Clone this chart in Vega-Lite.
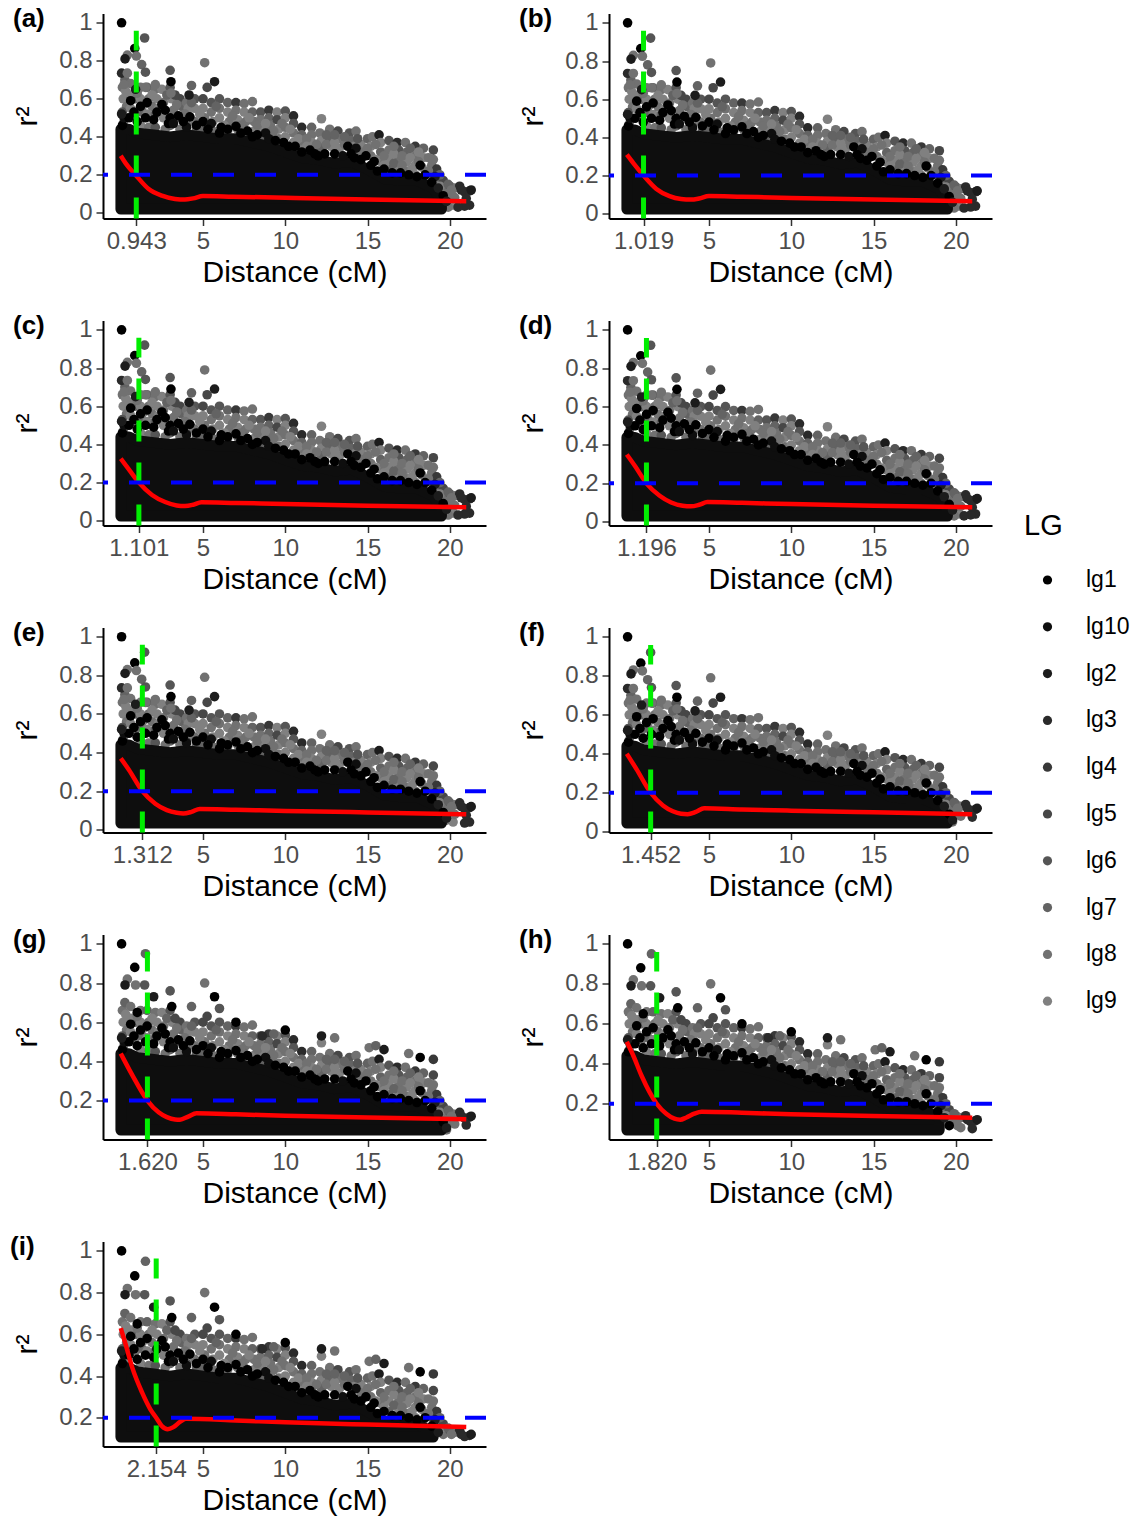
{"$schema":"https://vega.github.io/schema/vega-lite/v6.json","background":"white","padding":{"left":10,"top":5.5,"right":0,"bottom":0},"columns":2,"bounds":"flush","spacing":{"column":123,"row":102},"resolve":{"scale":{"color":"shared"},"legend":{"color":"shared"}},
"config":{"view":{"stroke":null},"font":"Liberation Sans","axis":{"grid":false,"domainColor":"#000","domainWidth":2,"tickColor":"#333","tickSize":7,"tickWidth":1.5,"labelFont":"Liberation Sans","labelFontSize":24,"labelColor":"#4d4d4d","labelPadding":4,"labelOverlap":false,"labelFlush":false,"titleFont":"Liberation Sans","titleFontSize":30,"titleColor":"#000","titleFontWeight":"normal"},"axisX":{"titlePadding":4},"axisY":{"titlePadding":16},"legend":{"orient":"none","legendX":921,"legendY":498,"titleFont":"Liberation Sans","titleFontSize":29,"titleFontWeight":"normal","titleColor":"#000","titlePadding":28,"labelFont":"Liberation Sans","labelFontSize":23,"labelColor":"#000","labelOffset":27,"symbolSize":85,"symbolOffset":12,"rowPadding":22.8,"symbolType":"circle"},"title":{"font":"Liberation Sans","fontSize":26,"fontWeight":"bold","color":"#000","anchor":"start","frame":"group","dx":-90,"offset":-21}},
"datasets":{
"gray":[{"d":0.1,"r":0.66,"g":"lg8"},{"d":0.25,"r":0.7,"g":"lg7"},{"d":0.3,"r":0.64,"g":"lg9"},{"d":0.15,"r":0.6,"g":"lg9"},{"d":0.35,"r":0.56,"g":"lg8"},{"d":0.1,"r":0.53,"g":"lg6"},{"d":0.3,"r":0.5,"g":"lg9"},{"d":0.15,"r":0.47,"g":"lg8"},{"d":0.6,"r":0.68,"g":"lg8"},{"d":0.7,"r":0.62,"g":"lg9"},{"d":0.6,"r":0.55,"g":"lg9"},{"d":0.9,"r":0.6,"g":"lg7"},{"d":0.9,"r":0.52,"g":"lg8"},{"d":1.2,"r":0.66,"g":"lg8"},{"d":1.2,"r":0.6,"g":"lg9"},{"d":1.3,"r":0.53,"g":"lg7"},{"d":1.2,"r":0.46,"g":"lg9"},{"d":1.6,"r":0.66,"g":"lg7"},{"d":1.7,"r":0.6,"g":"lg8"},{"d":1.6,"r":0.52,"g":"lg9"},{"d":1.7,"r":0.45,"g":"lg8"},{"d":2.1,"r":0.65,"g":"lg8"},{"d":2.2,"r":0.6,"g":"lg9"},{"d":2.1,"r":0.52,"g":"lg7"},{"d":2.1,"r":0.45,"g":"lg6"},{"d":2.5,"r":0.65,"g":"lg9"},{"d":2.6,"r":0.58,"g":"lg8"},{"d":2.6,"r":0.5,"g":"lg9"},{"d":2.7,"r":0.44,"g":"lg8"},{"d":3,"r":0.66,"g":"lg6"},{"d":3.1,"r":0.6,"g":"lg9"},{"d":3.2,"r":0.54,"g":"lg8"},{"d":3,"r":0.46,"g":"lg7"},{"d":3.6,"r":0.6,"g":"lg5"},{"d":3.7,"r":0.56,"g":"lg7"},{"d":3.6,"r":0.5,"g":"lg9"},{"d":3.6,"r":0.44,"g":"lg8"},{"d":4,"r":0.58,"g":"lg8"},{"d":4.1,"r":0.55,"g":"lg9"},{"d":4,"r":0.46,"g":"lg6"},{"d":4.5,"r":0.6,"g":"lg6"},{"d":4.5,"r":0.55,"g":"lg9"},{"d":4.5,"r":0.48,"g":"lg8"},{"d":4.6,"r":0.44,"g":"lg7"},{"d":5,"r":0.6,"g":"lg5"},{"d":5,"r":0.55,"g":"lg9"},{"d":5.1,"r":0.5,"g":"lg8"},{"d":5,"r":0.44,"g":"lg7"},{"d":5.5,"r":0.58,"g":"lg6"},{"d":5.5,"r":0.53,"g":"lg8"},{"d":5.6,"r":0.48,"g":"lg9"},{"d":5.6,"r":0.43,"g":"lg8"},{"d":6,"r":0.6,"g":"lg6"},{"d":6,"r":0.55,"g":"lg8"},{"d":6,"r":0.5,"g":"lg9"},{"d":6.1,"r":0.43,"g":"lg8"},{"d":6.5,"r":0.58,"g":"lg7"},{"d":6.5,"r":0.53,"g":"lg9"},{"d":6.6,"r":0.48,"g":"lg8"},{"d":6.5,"r":0.43,"g":"lg9"},{"d":7,"r":0.58,"g":"lg4"},{"d":7,"r":0.54,"g":"lg8"},{"d":7.1,"r":0.49,"g":"lg9"},{"d":7.1,"r":0.44,"g":"lg8"},{"d":7.5,"r":0.575,"g":"lg8"},{"d":7.5,"r":0.53,"g":"lg9"},{"d":7.6,"r":0.48,"g":"lg8"},{"d":7.5,"r":0.44,"g":"lg7"},{"d":8,"r":0.585,"g":"lg8"},{"d":8,"r":0.53,"g":"lg7"},{"d":8.1,"r":0.48,"g":"lg8"},{"d":8.1,"r":0.43,"g":"lg9"},{"d":8.5,"r":0.53,"g":"lg6"},{"d":8.5,"r":0.49,"g":"lg8"},{"d":8.6,"r":0.44,"g":"lg9"},{"d":8.6,"r":0.39,"g":"lg7"},{"d":9,"r":0.54,"g":"lg4"},{"d":9,"r":0.5,"g":"lg7"},{"d":9.1,"r":0.46,"g":"lg8"},{"d":9.1,"r":0.41,"g":"lg9"},{"d":9.5,"r":0.53,"g":"lg9"},{"d":9.5,"r":0.49,"g":"lg5"},{"d":9.6,"r":0.44,"g":"lg9"},{"d":9.6,"r":0.39,"g":"lg8"},{"d":10,"r":0.535,"g":"lg6"},{"d":10,"r":0.5,"g":"lg9"},{"d":10,"r":0.45,"g":"lg8"},{"d":10,"r":0.4,"g":"lg9"},{"d":10.5,"r":0.51,"g":"lg3"},{"d":10.5,"r":0.47,"g":"lg6"},{"d":10.5,"r":0.42,"g":"lg8"},{"d":10.5,"r":0.37,"g":"lg9"},{"d":11,"r":0.45,"g":"lg3"},{"d":11,"r":0.41,"g":"lg7"},{"d":11,"r":0.37,"g":"lg8"},{"d":11,"r":0.33,"g":"lg9"},{"d":11.6,"r":0.45,"g":"lg7"},{"d":11.6,"r":0.41,"g":"lg8"},{"d":11.6,"r":0.37,"g":"lg9"},{"d":11.6,"r":0.33,"g":"lg7"},{"d":12.2,"r":0.495,"g":"lg9"},{"d":12.1,"r":0.42,"g":"lg8"},{"d":12.2,"r":0.38,"g":"lg9"},{"d":12.2,"r":0.34,"g":"lg7"},{"d":12.7,"r":0.44,"g":"lg8"},{"d":12.7,"r":0.39,"g":"lg7"},{"d":12.8,"r":0.35,"g":"lg9"},{"d":13.2,"r":0.43,"g":"lg5"},{"d":13.3,"r":0.39,"g":"lg8"},{"d":13.3,"r":0.34,"g":"lg9"},{"d":13.9,"r":0.42,"g":"lg6"},{"d":14,"r":0.38,"g":"lg7"},{"d":14.3,"r":0.43,"g":"lg8"},{"d":14.6,"r":0.36,"g":"lg9"},{"d":14.6,"r":0.32,"g":"lg8"},{"d":15,"r":0.39,"g":"lg7"},{"d":15.3,"r":0.4,"g":"lg8"},{"d":15.2,"r":0.35,"g":"lg9"},{"d":15.2,"r":0.3,"g":"lg8"},{"d":15.7,"r":0.41,"g":"lg2"},{"d":15.8,"r":0.37,"g":"lg9"},{"d":15.8,"r":0.32,"g":"lg7"},{"d":15.8,"r":0.27,"g":"lg8"},{"d":16.3,"r":0.38,"g":"lg6"},{"d":16.3,"r":0.33,"g":"lg8"},{"d":16.3,"r":0.28,"g":"lg9"},{"d":16.3,"r":0.23,"g":"lg7"},{"d":16.8,"r":0.37,"g":"lg3"},{"d":16.9,"r":0.33,"g":"lg6"},{"d":16.9,"r":0.28,"g":"lg8"},{"d":16.9,"r":0.23,"g":"lg9"},{"d":17.3,"r":0.37,"g":"lg8"},{"d":17.4,"r":0.32,"g":"lg7"},{"d":17.4,"r":0.27,"g":"lg9"},{"d":17.4,"r":0.22,"g":"lg8"},{"d":17.9,"r":0.35,"g":"lg4"},{"d":17.9,"r":0.3,"g":"lg8"},{"d":17.9,"r":0.25,"g":"lg9"},{"d":17.9,"r":0.2,"g":"lg8"},{"d":18.4,"r":0.34,"g":"lg7"},{"d":18.4,"r":0.29,"g":"lg9"},{"d":18.3,"r":0.24,"g":"lg8"},{"d":18.4,"r":0.19,"g":"lg7"},{"d":19,"r":0.33,"g":"lg5"},{"d":18.9,"r":0.25,"g":"lg8"},{"d":18.9,"r":0.2,"g":"lg6"},{"d":19.2,"r":0.23,"g":"lg4"},{"d":19.2,"r":0.16,"g":"lg8"},{"d":19.6,"r":0.17,"g":"lg5"},{"d":19.6,"r":0.12,"g":"lg8"},{"d":20,"r":0.14,"g":"lg6"},{"d":20.1,"r":0.09,"g":"lg8"},{"d":20.3,"r":0.13,"g":"lg8"},{"d":19.8,"r":0.05,"g":"lg8"},{"d":20.2,"r":0.04,"g":"lg9"},{"d":20.3,"r":0.08,"g":"lg8"},
{"d":0.5,"r":0.62,"g":"lg9"},{"d":1,"r":0.63,"g":"lg8"},{"d":1.4,"r":0.57,"g":"lg9"},{"d":1.9,"r":0.62,"g":"lg9"},{"d":1.9,"r":0.56,"g":"lg8"},{"d":2.3,"r":0.55,"g":"lg9"},{"d":2.8,"r":0.62,"g":"lg7"},{"d":3.4,"r":0.57,"g":"lg8"},{"d":3.3,"r":0.62,"g":"lg5"},{"d":3.9,"r":0.52,"g":"lg8"},{"d":4.2,"r":0.5,"g":"lg9"},{"d":4.3,"r":0.58,"g":"lg7"},{"d":4.8,"r":0.52,"g":"lg9"},{"d":5.3,"r":0.47,"g":"lg8"},{"d":5.8,"r":0.56,"g":"lg7"},{"d":6.3,"r":0.46,"g":"lg9"},{"d":6.8,"r":0.51,"g":"lg8"},{"d":7.3,"r":0.46,"g":"lg8"},{"d":7.8,"r":0.5,"g":"lg9"},{"d":8.3,"r":0.46,"g":"lg8"},{"d":8.8,"r":0.47,"g":"lg9"},{"d":9.3,"r":0.43,"g":"lg8"},{"d":9.8,"r":0.47,"g":"lg8"},{"d":10.3,"r":0.44,"g":"lg9"},{"d":10.8,"r":0.39,"g":"lg9"},{"d":11.3,"r":0.39,"g":"lg8"},{"d":11.3,"r":0.35,"g":"lg9"},{"d":11.9,"r":0.36,"g":"lg8"},{"d":12.5,"r":0.36,"g":"lg8"},{"d":12.5,"r":0.41,"g":"lg7"},{"d":13,"r":0.37,"g":"lg9"},{"d":13,"r":0.41,"g":"lg7"},{"d":13.6,"r":0.36,"g":"lg8"},{"d":13.6,"r":0.4,"g":"lg7"},{"d":14.2,"r":0.35,"g":"lg9"},{"d":14.4,"r":0.39,"g":"lg6"},{"d":15,"r":0.34,"g":"lg8"},{"d":15.5,"r":0.28,"g":"lg9"},{"d":15.5,"r":0.36,"g":"lg8"},{"d":16,"r":0.3,"g":"lg8"},{"d":16,"r":0.25,"g":"lg9"},{"d":16.6,"r":0.31,"g":"lg9"},{"d":16.6,"r":0.26,"g":"lg7"},{"d":16.6,"r":0.35,"g":"lg8"},{"d":17.1,"r":0.3,"g":"lg8"},{"d":17.1,"r":0.25,"g":"lg8"},{"d":17.6,"r":0.29,"g":"lg9"},{"d":17.6,"r":0.34,"g":"lg7"},{"d":17.7,"r":0.23,"g":"lg9"},{"d":18.1,"r":0.27,"g":"lg8"},{"d":18.1,"r":0.32,"g":"lg9"},{"d":18.7,"r":0.22,"g":"lg8"},{"d":18.7,"r":0.29,"g":"lg8"},{"d":19,"r":0.28,"g":"lg8"},{"d":19.4,"r":0.2,"g":"lg7"},{"d":19.4,"r":0.14,"g":"lg9"},{"d":19.8,"r":0.1,"g":"lg8"},{"d":19.9,"r":0.15,"g":"lg7"},{"d":19.9,"r":0.03,"g":"lg8"}],
"core":[{"d":0,"r":0.44},{"d":0.5,"r":0.44},{"d":1,"r":0.42},{"d":2,"r":0.41},{"d":3,"r":0.4},{"d":4,"r":0.41},{"d":5,"r":0.4},{"d":6,"r":0.39},{"d":7,"r":0.39},{"d":8,"r":0.37},{"d":9,"r":0.35},{"d":10,"r":0.32},{"d":11,"r":0.29},{"d":12,"r":0.28},{"d":13,"r":0.26},{"d":14,"r":0.27},{"d":15,"r":0.23},{"d":16,"r":0.18},{"d":17,"r":0.17},{"d":18,"r":0.17},{"d":19,"r":0.13},{"d":19.5,"r":0.06}],
"dark":[{"d":0.05,"r":1,"g":"lg1","s":"b"},{"d":0.1,"r":0.46,"g":"lg1","s":"b"},{"d":0.6,"r":0.59,"g":"lg1","s":"b"},{"d":0.8,"r":0.53,"g":"lg1","s":"b"},{"d":1.2,"r":0.56,"g":"lg1","s":"b"},{"d":1.6,"r":0.58,"g":"lg1","s":"b"},{"d":2.5,"r":0.57,"g":"lg1","s":"b"},{"d":2.7,"r":0.54,"g":"lg1","s":"b"},{"d":3.5,"r":0.51,"g":"lg1","s":"b"},{"d":4.2,"r":0.505,"g":"lg1","s":"b"},{"d":5,"r":0.48,"g":"lg1","s":"b"},{"d":5.5,"r":0.47,"g":"lg10","s":"b"},{"d":6.1,"r":0.45,"g":"lg1","s":"b"},{"d":7,"r":0.455,"g":"lg1","s":"b"},{"d":7.7,"r":0.43,"g":"lg1","s":"b"},{"d":8.8,"r":0.42,"g":"lg10","s":"b"},{"d":9.9,"r":0.37,"g":"lg1","s":"b"},{"d":10.6,"r":0.35,"g":"lg1","s":"b"},{"d":11.5,"r":0.33,"g":"lg1","s":"b"},{"d":12.4,"r":0.31,"g":"lg1","s":"b"},{"d":13,"r":0.31,"g":"lg1","s":"b"},{"d":13.8,"r":0.35,"g":"lg1","s":"b"},{"d":14.3,"r":0.34,"g":"lg10","s":"b"},{"d":14.6,"r":0.28,"g":"lg1","s":"b"},{"d":15.2,"r":0.25,"g":"lg1","s":"b"},{"d":16,"r":0.23,"g":"lg1","s":"b"},{"d":17,"r":0.21,"g":"lg1","s":"b"},{"d":18.2,"r":0.25,"g":"lg1","s":"b"},{"d":18.5,"r":0.2,"g":"lg1","s":"b"},{"d":19.1,"r":0.19,"g":"lg2","s":"b"},{"d":2,"r":0.49,"g":"lg1","s":"b"},{"d":2.9,"r":0.47,"g":"lg1","s":"b"},{"d":4,"r":0.45,"g":"lg10","s":"b"},{"d":1,"r":0.48,"g":"lg1","s":"b"},{"d":3,"r":0.5,"g":"lg1","s":"b"},{"d":6,"r":0.42,"g":"lg1","s":"b"},{"d":8,"r":0.4,"g":"lg1","s":"b"},{"d":9,"r":0.39,"g":"lg10","s":"b"},{"d":12,"r":0.3,"g":"lg1","s":"b"},{"d":14.9,"r":0.3,"g":"lg1","s":"b"},
{"d":0.2,"r":0.5,"g":"lg10","s":"b"},{"d":0.5,"r":0.5,"g":"lg1","s":"b"},{"d":1.5,"r":0.5,"g":"lg1","s":"b"},{"d":2.2,"r":0.53,"g":"lg1","s":"b"},{"d":3.2,"r":0.47,"g":"lg10","s":"b"},{"d":3.8,"r":0.48,"g":"lg1","s":"b"},{"d":4.6,"r":0.46,"g":"lg1","s":"b"},{"d":5.3,"r":0.44,"g":"lg1","s":"b"},{"d":6.5,"r":0.44,"g":"lg1","s":"b"},{"d":7.3,"r":0.42,"g":"lg1","s":"b"},{"d":8.3,"r":0.41,"g":"lg1","s":"b"},{"d":9.4,"r":0.38,"g":"lg1","s":"b"},{"d":10.2,"r":0.35,"g":"lg1","s":"b"},{"d":11,"r":0.32,"g":"lg1","s":"b"},{"d":11.8,"r":0.31,"g":"lg1","s":"b"},{"d":13.5,"r":0.3,"g":"lg10","s":"b"},{"d":14.2,"r":0.29,"g":"lg1","s":"b"},{"d":15.6,"r":0.22,"g":"lg1","s":"b"},{"d":16.5,"r":0.21,"g":"lg1","s":"b"},{"d":17.5,"r":0.2,"g":"lg1","s":"b"},{"d":18,"r":0.19,"g":"lg1","s":"b"},{"d":15.4,"r":0.27,"g":"lg1","s":"b"},{"d":14,"r":0.31,"g":"lg1","s":"b"},{"d":18.9,"r":0.16,"g":"lg1","s":"b"},{"d":19.3,"r":0.13,"g":"lg2","s":"b"},{"d":19.6,"r":0.09,"g":"lg1","s":"b"},{"d":19.8,"r":0.06,"g":"lg2","s":"b"},{"d":0.05,"r":0.52,"g":"lg2","s":"b"},
{"d":20.6,"r":0.14,"g":"lg3","s":"b"},{"d":21.2,"r":0.115,"g":"lg3","s":"b"},{"d":20.9,"r":0.11,"g":"lg3","s":"b"},{"d":21.2,"r":0.04,"g":"lg3","s":"b"},{"d":20.9,"r":0.035,"g":"lg3","s":"b"},{"d":21,"r":0.075,"g":"lg3","s":"b"},{"d":20.5,"r":0.03,"g":"lg3","s":"b"},{"d":21.3,"r":0.12,"g":"lg2","s":"b"},{"d":20.7,"r":0.12,"g":"lg3","s":"b"},{"d":20.1,"r":0.12,"g":"lg8","s":"b"},
{"d":1.45,"r":0.92,"g":"lg6","s":"e"},{"d":0.85,"r":0.865,"g":"lg1","s":"e"},{"d":0.4,"r":0.83,"g":"lg8","s":"e"},{"d":0.26,"r":0.81,"g":"lg2","s":"e"},{"d":0.95,"r":0.825,"g":"lg8","s":"e"},{"d":1.27,"r":0.78,"g":"lg7","s":"e"},{"d":1.5,"r":0.74,"g":"lg6","s":"e"},{"d":0.05,"r":0.735,"g":"lg3","s":"e"},{"d":0.4,"r":0.735,"g":"lg8","s":"e"},{"d":3,"r":0.75,"g":"lg6","s":"e"},{"d":5.1,"r":0.79,"g":"lg8","s":"e"},{"d":5.7,"r":0.69,"g":"lg2","s":"e"},{"d":5.25,"r":0.66,"g":"lg5","s":"e"},{"d":4.3,"r":0.67,"g":"lg7","s":"e"},{"d":4.15,"r":0.62,"g":"lg2","s":"e"},{"d":3.05,"r":0.69,"g":"lg1","s":"e"},{"d":2.1,"r":0.675,"g":"lg8","s":"e"},{"d":3.05,"r":0.63,"g":"lg8","s":"e"},{"d":1.5,"r":0.66,"g":"lg8","s":"e"},{"d":0.9,"r":0.65,"g":"lg2","s":"e"},{"d":0.2,"r":0.675,"g":"lg8","s":"e"},
{"d":1.5,"r":0.95,"g":"lg7","s":"l"},{"d":0.85,"r":0.88,"g":"lg1","s":"l"},{"d":0.4,"r":0.82,"g":"lg8","s":"l"},{"d":0.26,"r":0.79,"g":"lg2","s":"l"},{"d":0.9,"r":0.79,"g":"lg8","s":"l"},{"d":1.45,"r":0.79,"g":"lg6","s":"l"},{"d":3,"r":0.76,"g":"lg6","s":"l"},{"d":5.1,"r":0.8,"g":"lg8","s":"l"},{"d":5.7,"r":0.73,"g":"lg1","s":"l"},{"d":6,"r":0.67,"g":"lg6","s":"l"},{"d":5.25,"r":0.63,"g":"lg5","s":"l"},{"d":7,"r":0.6,"g":"lg1","s":"l"},{"d":4.3,"r":0.68,"g":"lg7","s":"l"},{"d":2,"r":0.73,"g":"lg2","s":"l"},{"d":3.1,"r":0.68,"g":"lg1","s":"l"},{"d":1,"r":0.65,"g":"lg1","s":"l"},{"d":10,"r":0.56,"g":"lg1","s":"l"},{"d":9.3,"r":0.54,"g":"lg7","s":"l"},{"d":8.6,"r":0.53,"g":"lg3","s":"l"},{"d":12.2,"r":0.53,"g":"lg2","s":"l"},{"d":13,"r":0.52,"g":"lg8","s":"l"},{"d":15.1,"r":0.47,"g":"lg8","s":"l"},{"d":15.5,"r":0.48,"g":"lg7","s":"l"},{"d":16,"r":0.46,"g":"lg2","s":"l"},{"d":17.5,"r":0.44,"g":"lg8","s":"l"},{"d":18.2,"r":0.42,"g":"lg1","s":"l"},{"d":19,"r":0.41,"g":"lg4","s":"l"}],
"smooth":[{"p":"a","d":0,"r":0.3},{"p":"a","d":0.3,"r":0.26},{"p":"a","d":0.943,"r":0.195},{"p":"a","d":1.7,"r":0.125},{"p":"a","d":2.5,"r":0.09},{"p":"a","d":3.3,"r":0.073},{"p":"a","d":3.9,"r":0.07},{"p":"a","d":4.4,"r":0.076},{"p":"a","d":5,"r":0.088},{"p":"a","d":6.8,"r":0.085},{"p":"a","d":10,"r":0.079},{"p":"a","d":15,"r":0.07},{"p":"a","d":21,"r":0.061},
{"p":"b","d":0,"r":0.31},{"p":"b","d":0.4,"r":0.265},{"p":"b","d":1.019,"r":0.2},{"p":"b","d":1.8,"r":0.13},{"p":"b","d":2.6,"r":0.092},{"p":"b","d":3.3,"r":0.077},{"p":"b","d":3.9,"r":0.074},{"p":"b","d":4.4,"r":0.08},{"p":"b","d":5,"r":0.093},{"p":"b","d":7,"r":0.089},{"p":"b","d":10,"r":0.083},{"p":"b","d":15,"r":0.074},{"p":"b","d":21,"r":0.065},
{"p":"c","d":0,"r":0.325},{"p":"c","d":0.4,"r":0.28},{"p":"c","d":1.101,"r":0.2},{"p":"c","d":1.9,"r":0.135},{"p":"c","d":2.7,"r":0.098},{"p":"c","d":3.4,"r":0.08},{"p":"c","d":3.9,"r":0.077},{"p":"c","d":4.4,"r":0.084},{"p":"c","d":4.9,"r":0.097},{"p":"c","d":7,"r":0.093},{"p":"c","d":10,"r":0.088},{"p":"c","d":15,"r":0.078},{"p":"c","d":21,"r":0.07},
{"p":"d","d":0,"r":0.35},{"p":"d","d":0.5,"r":0.29},{"p":"d","d":1.196,"r":0.2},{"p":"d","d":2,"r":0.135},{"p":"d","d":2.7,"r":0.1},{"p":"d","d":3.4,"r":0.083},{"p":"d","d":3.9,"r":0.08},{"p":"d","d":4.4,"r":0.088},{"p":"d","d":4.9,"r":0.102},{"p":"d","d":7,"r":0.098},{"p":"d","d":10,"r":0.092},{"p":"d","d":15,"r":0.083},{"p":"d","d":21,"r":0.075},
{"p":"e","d":0,"r":0.37},{"p":"e","d":0.5,"r":0.31},{"p":"e","d":1.312,"r":0.2},{"p":"e","d":2.1,"r":0.135},{"p":"e","d":2.8,"r":0.102},{"p":"e","d":3.4,"r":0.088},{"p":"e","d":3.8,"r":0.084},{"p":"e","d":4.3,"r":0.093},{"p":"e","d":4.8,"r":0.108},{"p":"e","d":7,"r":0.104},{"p":"e","d":10,"r":0.098},{"p":"e","d":15,"r":0.09},{"p":"e","d":21,"r":0.08},
{"p":"f","d":0,"r":0.4},{"p":"f","d":0.6,"r":0.32},{"p":"f","d":1.452,"r":0.2},{"p":"f","d":2.2,"r":0.135},{"p":"f","d":2.8,"r":0.105},{"p":"f","d":3.3,"r":0.092},{"p":"f","d":3.7,"r":0.09},{"p":"f","d":4.2,"r":0.102},{"p":"f","d":4.7,"r":0.12},{"p":"f","d":7,"r":0.114},{"p":"f","d":10,"r":0.108},{"p":"f","d":15,"r":0.1},{"p":"f","d":21,"r":0.09},
{"p":"g","d":0,"r":0.44},{"p":"g","d":0.7,"r":0.33},{"p":"g","d":1.62,"r":0.2},{"p":"g","d":2.3,"r":0.14},{"p":"g","d":2.8,"r":0.115},{"p":"g","d":3.3,"r":0.103},{"p":"g","d":3.6,"r":0.102},{"p":"g","d":4.1,"r":0.118},{"p":"g","d":4.6,"r":0.135},{"p":"g","d":7,"r":0.13},{"p":"g","d":10,"r":0.122},{"p":"g","d":15,"r":0.113},{"p":"g","d":21,"r":0.105},
{"p":"h","d":0,"r":0.51},{"p":"h","d":0.4,"r":0.44},{"p":"h","d":0.9,"r":0.34},{"p":"h","d":1.82,"r":0.2},{"p":"h","d":2.4,"r":0.15},{"p":"h","d":2.9,"r":0.125},{"p":"h","d":3.25,"r":0.12},{"p":"h","d":3.6,"r":0.13},{"p":"h","d":4.1,"r":0.15},{"p":"h","d":4.55,"r":0.16},{"p":"h","d":7,"r":0.155},{"p":"h","d":10,"r":0.147},{"p":"h","d":15,"r":0.138},{"p":"h","d":21,"r":0.13},
{"p":"i","d":0,"r":0.63},{"p":"i","d":0.3,"r":0.55},{"p":"i","d":0.7,"r":0.44},{"p":"i","d":1.3,"r":0.32},{"p":"i","d":1.8,"r":0.24},{"p":"i","d":2.154,"r":0.2},{"p":"i","d":2.5,"r":0.16},{"p":"i","d":2.85,"r":0.145},{"p":"i","d":3.2,"r":0.155},{"p":"i","d":3.6,"r":0.18},{"p":"i","d":3.95,"r":0.195},{"p":"i","d":7,"r":0.187},{"p":"i","d":10,"r":0.178},{"p":"i","d":15,"r":0.167},{"p":"i","d":21,"r":0.155}]
},
"concat":[
{"width":383,"height":205,"title":{"text":"(a)"},"layer":[
{"data":{"name":"gray"},"transform":[{"filter":"datum.r>=0.019"}],"mark":{"type":"point","filled":true,"size":92,"opacity":1},"encoding":{"x":{"field":"d","type":"quantitative","scale":{"domain":[-1.08,22.2],"nice":false,"zero":false},"axis":{"values":[0.943,5,10,15,20],"labelExpr":"datum.value<5?format(datum.value,'.3f'):format(datum.value,'d')","title":"Distance (cM)"}},"y":{"field":"r","type":"quantitative","scale":{"domain":[-0.03,1.049],"nice":false,"zero":false},"axis":{"values":[0,0.2,0.4,0.6,0.8,1],"format":".1~f","title":"r²"}},"color":{"field":"g","type":"nominal","title":"LG","scale":{"domain":["lg1","lg10","lg2","lg3","lg4","lg5","lg6","lg7","lg8","lg9"],"range":["#000000","#0e0e0e","#1c1c1c","#2a2a2a","#383838","#474747","#555555","#636363","#717171","#808080"]}}}},
{"data":{"name":"core"},"transform":[{"filter":"datum.r>=0.019"}],"mark":{"type":"area","color":"#0e0e0e","stroke":"#0e0e0e","strokeWidth":10.7,"strokeJoin":"round","opacity":1},"encoding":{"x":{"field":"d","type":"quantitative"},"y":{"field":"r","type":"quantitative"},"y2":{"datum":0.019}}},
{"data":{"name":"dark"},"transform":[{"filter":"datum.r>=0.019&&datum.s!='l'"}],"mark":{"type":"point","filled":true,"size":92,"opacity":1},"encoding":{"x":{"field":"d","type":"quantitative"},"y":{"field":"r","type":"quantitative"},"color":{"field":"g","type":"nominal"}}},
{"data":{"name":"smooth"},"transform":[{"filter":"datum.p=='a'"}],"mark":{"type":"line","color":"#ff0000","strokeWidth":4.5,"interpolate":"monotone"},"encoding":{"x":{"field":"d","type":"quantitative"},"y":{"field":"r","type":"quantitative"}}},
{"data":{"values":[{"t":0.943,"lo":-0.03,"hi":0.958}]},"mark":{"type":"rule","color":"#00ee00","strokeWidth":5,"strokeDash":[21,21]},"encoding":{"x":{"field":"t","type":"quantitative"},"y":{"field":"lo","type":"quantitative"},"y2":{"field":"hi"}}},
{"data":{"values":[{"h":0.2}]},"mark":{"type":"rule","color":"#0000ff","strokeWidth":4,"strokeDash":[21,21]},"encoding":{"y":{"field":"h","type":"quantitative"}}}]},
{"width":383,"height":205,"title":{"text":"(b)"},"layer":[
{"data":{"name":"gray"},"transform":[{"filter":"datum.r>=0.024"}],"mark":{"type":"point","filled":true,"size":92,"opacity":1},"encoding":{"x":{"field":"d","type":"quantitative","scale":{"domain":[-1.08,22.2],"nice":false,"zero":false},"axis":{"values":[1.019,5,10,15,20],"labelExpr":"datum.value<5?format(datum.value,'.3f'):format(datum.value,'d')","title":"Distance (cM)"}},"y":{"field":"r","type":"quantitative","scale":{"domain":[-0.025,1.049],"nice":false,"zero":false},"axis":{"values":[0,0.2,0.4,0.6,0.8,1],"format":".1~f","title":"r²"}},"color":{"field":"g","type":"nominal","title":"LG","scale":{"domain":["lg1","lg10","lg2","lg3","lg4","lg5","lg6","lg7","lg8","lg9"],"range":["#000000","#0e0e0e","#1c1c1c","#2a2a2a","#383838","#474747","#555555","#636363","#717171","#808080"]}}}},
{"data":{"name":"core"},"transform":[{"filter":"datum.r>=0.024"}],"mark":{"type":"area","color":"#0e0e0e","stroke":"#0e0e0e","strokeWidth":10.7,"strokeJoin":"round","opacity":1},"encoding":{"x":{"field":"d","type":"quantitative"},"y":{"field":"r","type":"quantitative"},"y2":{"datum":0.024}}},
{"data":{"name":"dark"},"transform":[{"filter":"datum.r>=0.024&&datum.s!='l'"}],"mark":{"type":"point","filled":true,"size":92,"opacity":1},"encoding":{"x":{"field":"d","type":"quantitative"},"y":{"field":"r","type":"quantitative"},"color":{"field":"g","type":"nominal"}}},
{"data":{"name":"smooth"},"transform":[{"filter":"datum.p=='b'"}],"mark":{"type":"line","color":"#ff0000","strokeWidth":4.5,"interpolate":"monotone"},"encoding":{"x":{"field":"d","type":"quantitative"},"y":{"field":"r","type":"quantitative"}}},
{"data":{"values":[{"t":1.019,"lo":-0.025,"hi":0.958}]},"mark":{"type":"rule","color":"#00ee00","strokeWidth":5,"strokeDash":[21,21]},"encoding":{"x":{"field":"t","type":"quantitative"},"y":{"field":"lo","type":"quantitative"},"y2":{"field":"hi"}}},
{"data":{"values":[{"h":0.2}]},"mark":{"type":"rule","color":"#0000ff","strokeWidth":4,"strokeDash":[21,21]},"encoding":{"y":{"field":"h","type":"quantitative"}}}]},
{"width":383,"height":205,"title":{"text":"(c)"},"layer":[
{"data":{"name":"gray"},"transform":[{"filter":"datum.r>=0.024"}],"mark":{"type":"point","filled":true,"size":92,"opacity":1},"encoding":{"x":{"field":"d","type":"quantitative","scale":{"domain":[-1.08,22.2],"nice":false,"zero":false},"axis":{"values":[1.101,5,10,15,20],"labelExpr":"datum.value<5?format(datum.value,'.3f'):format(datum.value,'d')","title":"Distance (cM)"}},"y":{"field":"r","type":"quantitative","scale":{"domain":[-0.025,1.049],"nice":false,"zero":false},"axis":{"values":[0,0.2,0.4,0.6,0.8,1],"format":".1~f","title":"r²"}},"color":{"field":"g","type":"nominal","title":"LG","scale":{"domain":["lg1","lg10","lg2","lg3","lg4","lg5","lg6","lg7","lg8","lg9"],"range":["#000000","#0e0e0e","#1c1c1c","#2a2a2a","#383838","#474747","#555555","#636363","#717171","#808080"]}}}},
{"data":{"name":"core"},"transform":[{"filter":"datum.r>=0.024"}],"mark":{"type":"area","color":"#0e0e0e","stroke":"#0e0e0e","strokeWidth":10.7,"strokeJoin":"round","opacity":1},"encoding":{"x":{"field":"d","type":"quantitative"},"y":{"field":"r","type":"quantitative"},"y2":{"datum":0.024}}},
{"data":{"name":"dark"},"transform":[{"filter":"datum.r>=0.024&&datum.s!='l'"}],"mark":{"type":"point","filled":true,"size":92,"opacity":1},"encoding":{"x":{"field":"d","type":"quantitative"},"y":{"field":"r","type":"quantitative"},"color":{"field":"g","type":"nominal"}}},
{"data":{"name":"smooth"},"transform":[{"filter":"datum.p=='c'"}],"mark":{"type":"line","color":"#ff0000","strokeWidth":4.5,"interpolate":"monotone"},"encoding":{"x":{"field":"d","type":"quantitative"},"y":{"field":"r","type":"quantitative"}}},
{"data":{"values":[{"t":1.101,"lo":-0.025,"hi":0.958}]},"mark":{"type":"rule","color":"#00ee00","strokeWidth":5,"strokeDash":[21,21]},"encoding":{"x":{"field":"t","type":"quantitative"},"y":{"field":"lo","type":"quantitative"},"y2":{"field":"hi"}}},
{"data":{"values":[{"h":0.2}]},"mark":{"type":"rule","color":"#0000ff","strokeWidth":4,"strokeDash":[21,21]},"encoding":{"y":{"field":"h","type":"quantitative"}}}]},
{"width":383,"height":205,"title":{"text":"(d)"},"layer":[
{"data":{"name":"gray"},"transform":[{"filter":"datum.r>=0.029"}],"mark":{"type":"point","filled":true,"size":92,"opacity":1},"encoding":{"x":{"field":"d","type":"quantitative","scale":{"domain":[-1.08,22.2],"nice":false,"zero":false},"axis":{"values":[1.196,5,10,15,20],"labelExpr":"datum.value<5?format(datum.value,'.3f'):format(datum.value,'d')","title":"Distance (cM)"}},"y":{"field":"r","type":"quantitative","scale":{"domain":[-0.02,1.049],"nice":false,"zero":false},"axis":{"values":[0,0.2,0.4,0.6,0.8,1],"format":".1~f","title":"r²"}},"color":{"field":"g","type":"nominal","title":"LG","scale":{"domain":["lg1","lg10","lg2","lg3","lg4","lg5","lg6","lg7","lg8","lg9"],"range":["#000000","#0e0e0e","#1c1c1c","#2a2a2a","#383838","#474747","#555555","#636363","#717171","#808080"]}}}},
{"data":{"name":"core"},"transform":[{"filter":"datum.r>=0.029"}],"mark":{"type":"area","color":"#0e0e0e","stroke":"#0e0e0e","strokeWidth":10.7,"strokeJoin":"round","opacity":1},"encoding":{"x":{"field":"d","type":"quantitative"},"y":{"field":"r","type":"quantitative"},"y2":{"datum":0.029}}},
{"data":{"name":"dark"},"transform":[{"filter":"datum.r>=0.029&&datum.s!='l'"}],"mark":{"type":"point","filled":true,"size":92,"opacity":1},"encoding":{"x":{"field":"d","type":"quantitative"},"y":{"field":"r","type":"quantitative"},"color":{"field":"g","type":"nominal"}}},
{"data":{"name":"smooth"},"transform":[{"filter":"datum.p=='d'"}],"mark":{"type":"line","color":"#ff0000","strokeWidth":4.5,"interpolate":"monotone"},"encoding":{"x":{"field":"d","type":"quantitative"},"y":{"field":"r","type":"quantitative"}}},
{"data":{"values":[{"t":1.196,"lo":-0.02,"hi":0.958}]},"mark":{"type":"rule","color":"#00ee00","strokeWidth":5,"strokeDash":[21,21]},"encoding":{"x":{"field":"t","type":"quantitative"},"y":{"field":"lo","type":"quantitative"},"y2":{"field":"hi"}}},
{"data":{"values":[{"h":0.2}]},"mark":{"type":"rule","color":"#0000ff","strokeWidth":4,"strokeDash":[21,21]},"encoding":{"y":{"field":"h","type":"quantitative"}}}]},
{"width":383,"height":205,"title":{"text":"(e)"},"layer":[
{"data":{"name":"gray"},"transform":[{"filter":"datum.r>=0.034"}],"mark":{"type":"point","filled":true,"size":92,"opacity":1},"encoding":{"x":{"field":"d","type":"quantitative","scale":{"domain":[-1.08,22.2],"nice":false,"zero":false},"axis":{"values":[1.312,5,10,15,20],"labelExpr":"datum.value<5?format(datum.value,'.3f'):format(datum.value,'d')","title":"Distance (cM)"}},"y":{"field":"r","type":"quantitative","scale":{"domain":[-0.014,1.048],"nice":false,"zero":false},"axis":{"values":[0,0.2,0.4,0.6,0.8,1],"format":".1~f","title":"r²"}},"color":{"field":"g","type":"nominal","title":"LG","scale":{"domain":["lg1","lg10","lg2","lg3","lg4","lg5","lg6","lg7","lg8","lg9"],"range":["#000000","#0e0e0e","#1c1c1c","#2a2a2a","#383838","#474747","#555555","#636363","#717171","#808080"]}}}},
{"data":{"name":"core"},"transform":[{"filter":"datum.r>=0.034"}],"mark":{"type":"area","color":"#0e0e0e","stroke":"#0e0e0e","strokeWidth":10.7,"strokeJoin":"round","opacity":1},"encoding":{"x":{"field":"d","type":"quantitative"},"y":{"field":"r","type":"quantitative"},"y2":{"datum":0.034}}},
{"data":{"name":"dark"},"transform":[{"filter":"datum.r>=0.034&&datum.s!='l'"}],"mark":{"type":"point","filled":true,"size":92,"opacity":1},"encoding":{"x":{"field":"d","type":"quantitative"},"y":{"field":"r","type":"quantitative"},"color":{"field":"g","type":"nominal"}}},
{"data":{"name":"smooth"},"transform":[{"filter":"datum.p=='e'"}],"mark":{"type":"line","color":"#ff0000","strokeWidth":4.5,"interpolate":"monotone"},"encoding":{"x":{"field":"d","type":"quantitative"},"y":{"field":"r","type":"quantitative"}}},
{"data":{"values":[{"t":1.312,"lo":-0.014,"hi":0.958}]},"mark":{"type":"rule","color":"#00ee00","strokeWidth":5,"strokeDash":[21,21]},"encoding":{"x":{"field":"t","type":"quantitative"},"y":{"field":"lo","type":"quantitative"},"y2":{"field":"hi"}}},
{"data":{"values":[{"h":0.2}]},"mark":{"type":"rule","color":"#0000ff","strokeWidth":4,"strokeDash":[21,21]},"encoding":{"y":{"field":"h","type":"quantitative"}}}]},
{"width":383,"height":205,"title":{"text":"(f)"},"layer":[
{"data":{"name":"gray"},"transform":[{"filter":"datum.r>=0.044"}],"mark":{"type":"point","filled":true,"size":92,"opacity":1},"encoding":{"x":{"field":"d","type":"quantitative","scale":{"domain":[-1.08,22.2],"nice":false,"zero":false},"axis":{"values":[1.452,5,10,15,20],"labelExpr":"datum.value<5?format(datum.value,'.3f'):format(datum.value,'d')","title":"Distance (cM)"}},"y":{"field":"r","type":"quantitative","scale":{"domain":[-0.004,1.048],"nice":false,"zero":false},"axis":{"values":[0,0.2,0.4,0.6,0.8,1],"format":".1~f","title":"r²"}},"color":{"field":"g","type":"nominal","title":"LG","scale":{"domain":["lg1","lg10","lg2","lg3","lg4","lg5","lg6","lg7","lg8","lg9"],"range":["#000000","#0e0e0e","#1c1c1c","#2a2a2a","#383838","#474747","#555555","#636363","#717171","#808080"]}}}},
{"data":{"name":"core"},"transform":[{"filter":"datum.r>=0.044"}],"mark":{"type":"area","color":"#0e0e0e","stroke":"#0e0e0e","strokeWidth":10.7,"strokeJoin":"round","opacity":1},"encoding":{"x":{"field":"d","type":"quantitative"},"y":{"field":"r","type":"quantitative"},"y2":{"datum":0.044}}},
{"data":{"name":"dark"},"transform":[{"filter":"datum.r>=0.044&&datum.s!='l'"}],"mark":{"type":"point","filled":true,"size":92,"opacity":1},"encoding":{"x":{"field":"d","type":"quantitative"},"y":{"field":"r","type":"quantitative"},"color":{"field":"g","type":"nominal"}}},
{"data":{"name":"smooth"},"transform":[{"filter":"datum.p=='f'"}],"mark":{"type":"line","color":"#ff0000","strokeWidth":4.5,"interpolate":"monotone"},"encoding":{"x":{"field":"d","type":"quantitative"},"y":{"field":"r","type":"quantitative"}}},
{"data":{"values":[{"t":1.452,"lo":-0.004,"hi":0.958}]},"mark":{"type":"rule","color":"#00ee00","strokeWidth":5,"strokeDash":[21,21]},"encoding":{"x":{"field":"t","type":"quantitative"},"y":{"field":"lo","type":"quantitative"},"y2":{"field":"hi"}}},
{"data":{"values":[{"h":0.2}]},"mark":{"type":"rule","color":"#0000ff","strokeWidth":4,"strokeDash":[21,21]},"encoding":{"y":{"field":"h","type":"quantitative"}}}]},
{"width":383,"height":205,"title":{"text":"(g)"},"layer":[
{"data":{"name":"gray"},"transform":[{"filter":"datum.r>=0.049"}],"mark":{"type":"point","filled":true,"size":92,"opacity":1},"encoding":{"x":{"field":"d","type":"quantitative","scale":{"domain":[-1.08,22.2],"nice":false,"zero":false},"axis":{"values":[1.62,5,10,15,20],"labelExpr":"datum.value<5?format(datum.value,'.3f'):format(datum.value,'d')","title":"Distance (cM)"}},"y":{"field":"r","type":"quantitative","scale":{"domain":[0.001,1.048],"nice":false,"zero":false},"axis":{"values":[0.2,0.4,0.6,0.8,1],"format":".1~f","title":"r²"}},"color":{"field":"g","type":"nominal","title":"LG","scale":{"domain":["lg1","lg10","lg2","lg3","lg4","lg5","lg6","lg7","lg8","lg9"],"range":["#000000","#0e0e0e","#1c1c1c","#2a2a2a","#383838","#474747","#555555","#636363","#717171","#808080"]}}}},
{"data":{"name":"core"},"transform":[{"filter":"datum.r>=0.049"}],"mark":{"type":"area","color":"#0e0e0e","stroke":"#0e0e0e","strokeWidth":10.7,"strokeJoin":"round","opacity":1},"encoding":{"x":{"field":"d","type":"quantitative"},"y":{"field":"r","type":"quantitative"},"y2":{"datum":0.049}}},
{"data":{"name":"dark"},"transform":[{"filter":"datum.r>=0.049&&datum.s!='e'"}],"mark":{"type":"point","filled":true,"size":92,"opacity":1},"encoding":{"x":{"field":"d","type":"quantitative"},"y":{"field":"r","type":"quantitative"},"color":{"field":"g","type":"nominal"}}},
{"data":{"name":"smooth"},"transform":[{"filter":"datum.p=='g'"}],"mark":{"type":"line","color":"#ff0000","strokeWidth":4.5,"interpolate":"monotone"},"encoding":{"x":{"field":"d","type":"quantitative"},"y":{"field":"r","type":"quantitative"}}},
{"data":{"values":[{"t":1.62,"lo":0.001,"hi":0.96}]},"mark":{"type":"rule","color":"#00ee00","strokeWidth":5,"strokeDash":[21,21]},"encoding":{"x":{"field":"t","type":"quantitative"},"y":{"field":"lo","type":"quantitative"},"y2":{"field":"hi"}}},
{"data":{"values":[{"h":0.2}]},"mark":{"type":"rule","color":"#0000ff","strokeWidth":4,"strokeDash":[21,21]},"encoding":{"y":{"field":"h","type":"quantitative"}}}]},
{"width":383,"height":205,"title":{"text":"(h)"},"layer":[
{"data":{"name":"gray"},"transform":[{"filter":"datum.r>=0.068"}],"mark":{"type":"point","filled":true,"size":92,"opacity":1},"encoding":{"x":{"field":"d","type":"quantitative","scale":{"domain":[-1.08,22.2],"nice":false,"zero":false},"axis":{"values":[1.82,5,10,15,20],"labelExpr":"datum.value<5?format(datum.value,'.3f'):format(datum.value,'d')","title":"Distance (cM)"}},"y":{"field":"r","type":"quantitative","scale":{"domain":[0.021,1.047],"nice":false,"zero":false},"axis":{"values":[0.2,0.4,0.6,0.8,1],"format":".1~f","title":"r²"}},"color":{"field":"g","type":"nominal","title":"LG","scale":{"domain":["lg1","lg10","lg2","lg3","lg4","lg5","lg6","lg7","lg8","lg9"],"range":["#000000","#0e0e0e","#1c1c1c","#2a2a2a","#383838","#474747","#555555","#636363","#717171","#808080"]}}}},
{"data":{"name":"core"},"transform":[{"filter":"datum.r>=0.068"}],"mark":{"type":"area","color":"#0e0e0e","stroke":"#0e0e0e","strokeWidth":10.7,"strokeJoin":"round","opacity":1},"encoding":{"x":{"field":"d","type":"quantitative"},"y":{"field":"r","type":"quantitative"},"y2":{"datum":0.068}}},
{"data":{"name":"dark"},"transform":[{"filter":"datum.r>=0.068&&datum.s!='e'"}],"mark":{"type":"point","filled":true,"size":92,"opacity":1},"encoding":{"x":{"field":"d","type":"quantitative"},"y":{"field":"r","type":"quantitative"},"color":{"field":"g","type":"nominal"}}},
{"data":{"name":"smooth"},"transform":[{"filter":"datum.p=='h'"}],"mark":{"type":"line","color":"#ff0000","strokeWidth":4.5,"interpolate":"monotone"},"encoding":{"x":{"field":"d","type":"quantitative"},"y":{"field":"r","type":"quantitative"}}},
{"data":{"values":[{"t":1.82,"lo":0.021,"hi":0.96}]},"mark":{"type":"rule","color":"#00ee00","strokeWidth":5,"strokeDash":[21,21]},"encoding":{"x":{"field":"t","type":"quantitative"},"y":{"field":"lo","type":"quantitative"},"y2":{"field":"hi"}}},
{"data":{"values":[{"h":0.2}]},"mark":{"type":"rule","color":"#0000ff","strokeWidth":4,"strokeDash":[21,21]},"encoding":{"y":{"field":"h","type":"quantitative"}}}]},
{"width":383,"height":205,"title":{"text":"(i)","dx":-93},"layer":[
{"data":{"name":"gray"},"transform":[{"filter":"datum.r>=0.107"}],"mark":{"type":"point","filled":true,"size":92,"opacity":1},"encoding":{"x":{"field":"d","type":"quantitative","scale":{"domain":[-1.08,22.2],"nice":false,"zero":false},"axis":{"values":[2.154,5,10,15,20],"labelExpr":"datum.value<5?format(datum.value,'.3f'):format(datum.value,'d')","title":"Distance (cM)"}},"y":{"field":"r","type":"quantitative","scale":{"domain":[0.062,1.045],"nice":false,"zero":false},"axis":{"values":[0.2,0.4,0.6,0.8,1],"format":".1~f","title":"r²"}},"color":{"field":"g","type":"nominal","title":"LG","scale":{"domain":["lg1","lg10","lg2","lg3","lg4","lg5","lg6","lg7","lg8","lg9"],"range":["#000000","#0e0e0e","#1c1c1c","#2a2a2a","#383838","#474747","#555555","#636363","#717171","#808080"]}}}},
{"data":{"name":"core"},"transform":[{"filter":"datum.r>=0.107"}],"mark":{"type":"area","color":"#0e0e0e","stroke":"#0e0e0e","strokeWidth":10.7,"strokeJoin":"round","opacity":1},"encoding":{"x":{"field":"d","type":"quantitative"},"y":{"field":"r","type":"quantitative"},"y2":{"datum":0.107}}},
{"data":{"name":"dark"},"transform":[{"filter":"datum.r>=0.107&&datum.s!='e'"}],"mark":{"type":"point","filled":true,"size":92,"opacity":1},"encoding":{"x":{"field":"d","type":"quantitative"},"y":{"field":"r","type":"quantitative"},"color":{"field":"g","type":"nominal"}}},
{"data":{"name":"smooth"},"transform":[{"filter":"datum.p=='i'"}],"mark":{"type":"line","color":"#ff0000","strokeWidth":4.5,"interpolate":"monotone"},"encoding":{"x":{"field":"d","type":"quantitative"},"y":{"field":"r","type":"quantitative"}}},
{"data":{"values":[{"t":2.154,"lo":0.062,"hi":0.963}]},"mark":{"type":"rule","color":"#00ee00","strokeWidth":5,"strokeDash":[21,21]},"encoding":{"x":{"field":"t","type":"quantitative"},"y":{"field":"lo","type":"quantitative"},"y2":{"field":"hi"}}},
{"data":{"values":[{"h":0.2}]},"mark":{"type":"rule","color":"#0000ff","strokeWidth":4,"strokeDash":[21,21]},"encoding":{"y":{"field":"h","type":"quantitative"}}}]}
]}
